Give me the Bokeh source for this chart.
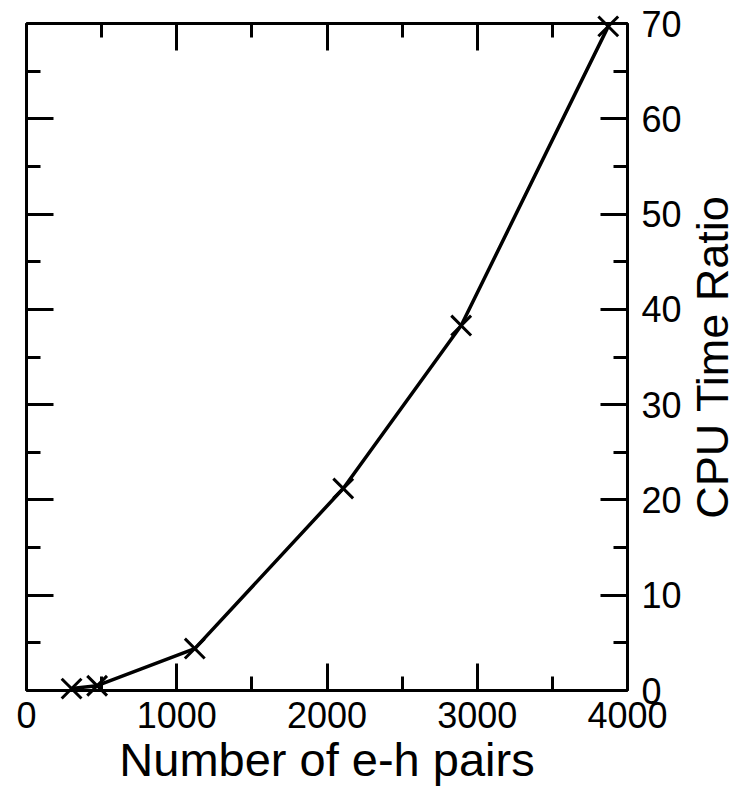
import math
from bokeh.plotting import figure
from bokeh.models import LinearAxis, Range1d, SingleIntervalTicker, CustomJSTickFormatter, Label
from bokeh.embed import file_html
from bokeh.resources import INLINE

# data
pairs = [300, 470, 1120, 2108, 2893, 3872]
cpu_ratio = [0.2, 0.5, 4.4, 21.2, 38.3, 69.7]

x_ticks_interval = 1000
y_ticks_interval = 10

FONT = "Liberation Sans"

p = figure(width=737, height=790, output_backend="svg", toolbar_location=None,
           x_range=Range1d(0, 4000), y_range=Range1d(0, 70),
           x_axis_location="below", y_axis_location="right",
           min_border_left=26, min_border_top=23, min_border_right=110, min_border_bottom=100)
p.grid.visible = False
p.outline_line_color = None
p.background_fill_color = "white"
p.border_fill_color = "white"

def style(ax, interval, labels=True):
    ax.ticker = SingleIntervalTicker(interval=interval, num_minor_ticks=2)
    ax.axis_line_width = 3
    ax.axis_line_color = "black"
    ax.major_tick_in = 27
    ax.major_tick_out = 0
    ax.minor_tick_in = 14
    ax.minor_tick_out = 0
    ax.major_tick_line_width = 3
    ax.minor_tick_line_width = 3
    ax.major_tick_line_color = "black"
    ax.minor_tick_line_color = "black"
    if labels:
        ax.major_label_text_font = FONT
        ax.major_label_text_font_size = "36px"
        ax.major_label_text_color = "black"
        ax.axis_label_text_font = FONT
        ax.axis_label_text_font_size = "47px"
        ax.axis_label_text_font_style = "normal"
        ax.axis_label_text_color = "black"
    else:
        ax.formatter = CustomJSTickFormatter(code="return '';")
        ax.major_label_standoff = 0

xb = p.xaxis[0]
xb.axis_label = "Number of e-h pairs"
style(xb, x_ticks_interval)
xb.major_label_standoff = 11
xb.axis_label_standoff = 2

yr = p.yaxis[0]
style(yr, y_ticks_interval)
yr.major_label_standoff = 14

ylabel = Label(x=28, y=35, x_units="screen", y_units="data", text="CPU Time Ratio",
               angle=math.pi / 2, text_align="center", text_baseline="middle",
               text_font=FONT, text_font_size="45px", text_color="black")
p.add_layout(ylabel, "right")

top = LinearAxis()
style(top, x_ticks_interval, labels=False)
p.add_layout(top, "above")
left = LinearAxis()
style(left, y_ticks_interval, labels=False)
p.add_layout(left, "left")

p.line(pairs, cpu_ratio, line_width=3.5, line_color="black")
p.scatter(pairs, cpu_ratio, marker="x", size=28, line_width=3, line_color="black",
          level="overlay")

open("out.html", "w").write(file_html(p, INLINE))
